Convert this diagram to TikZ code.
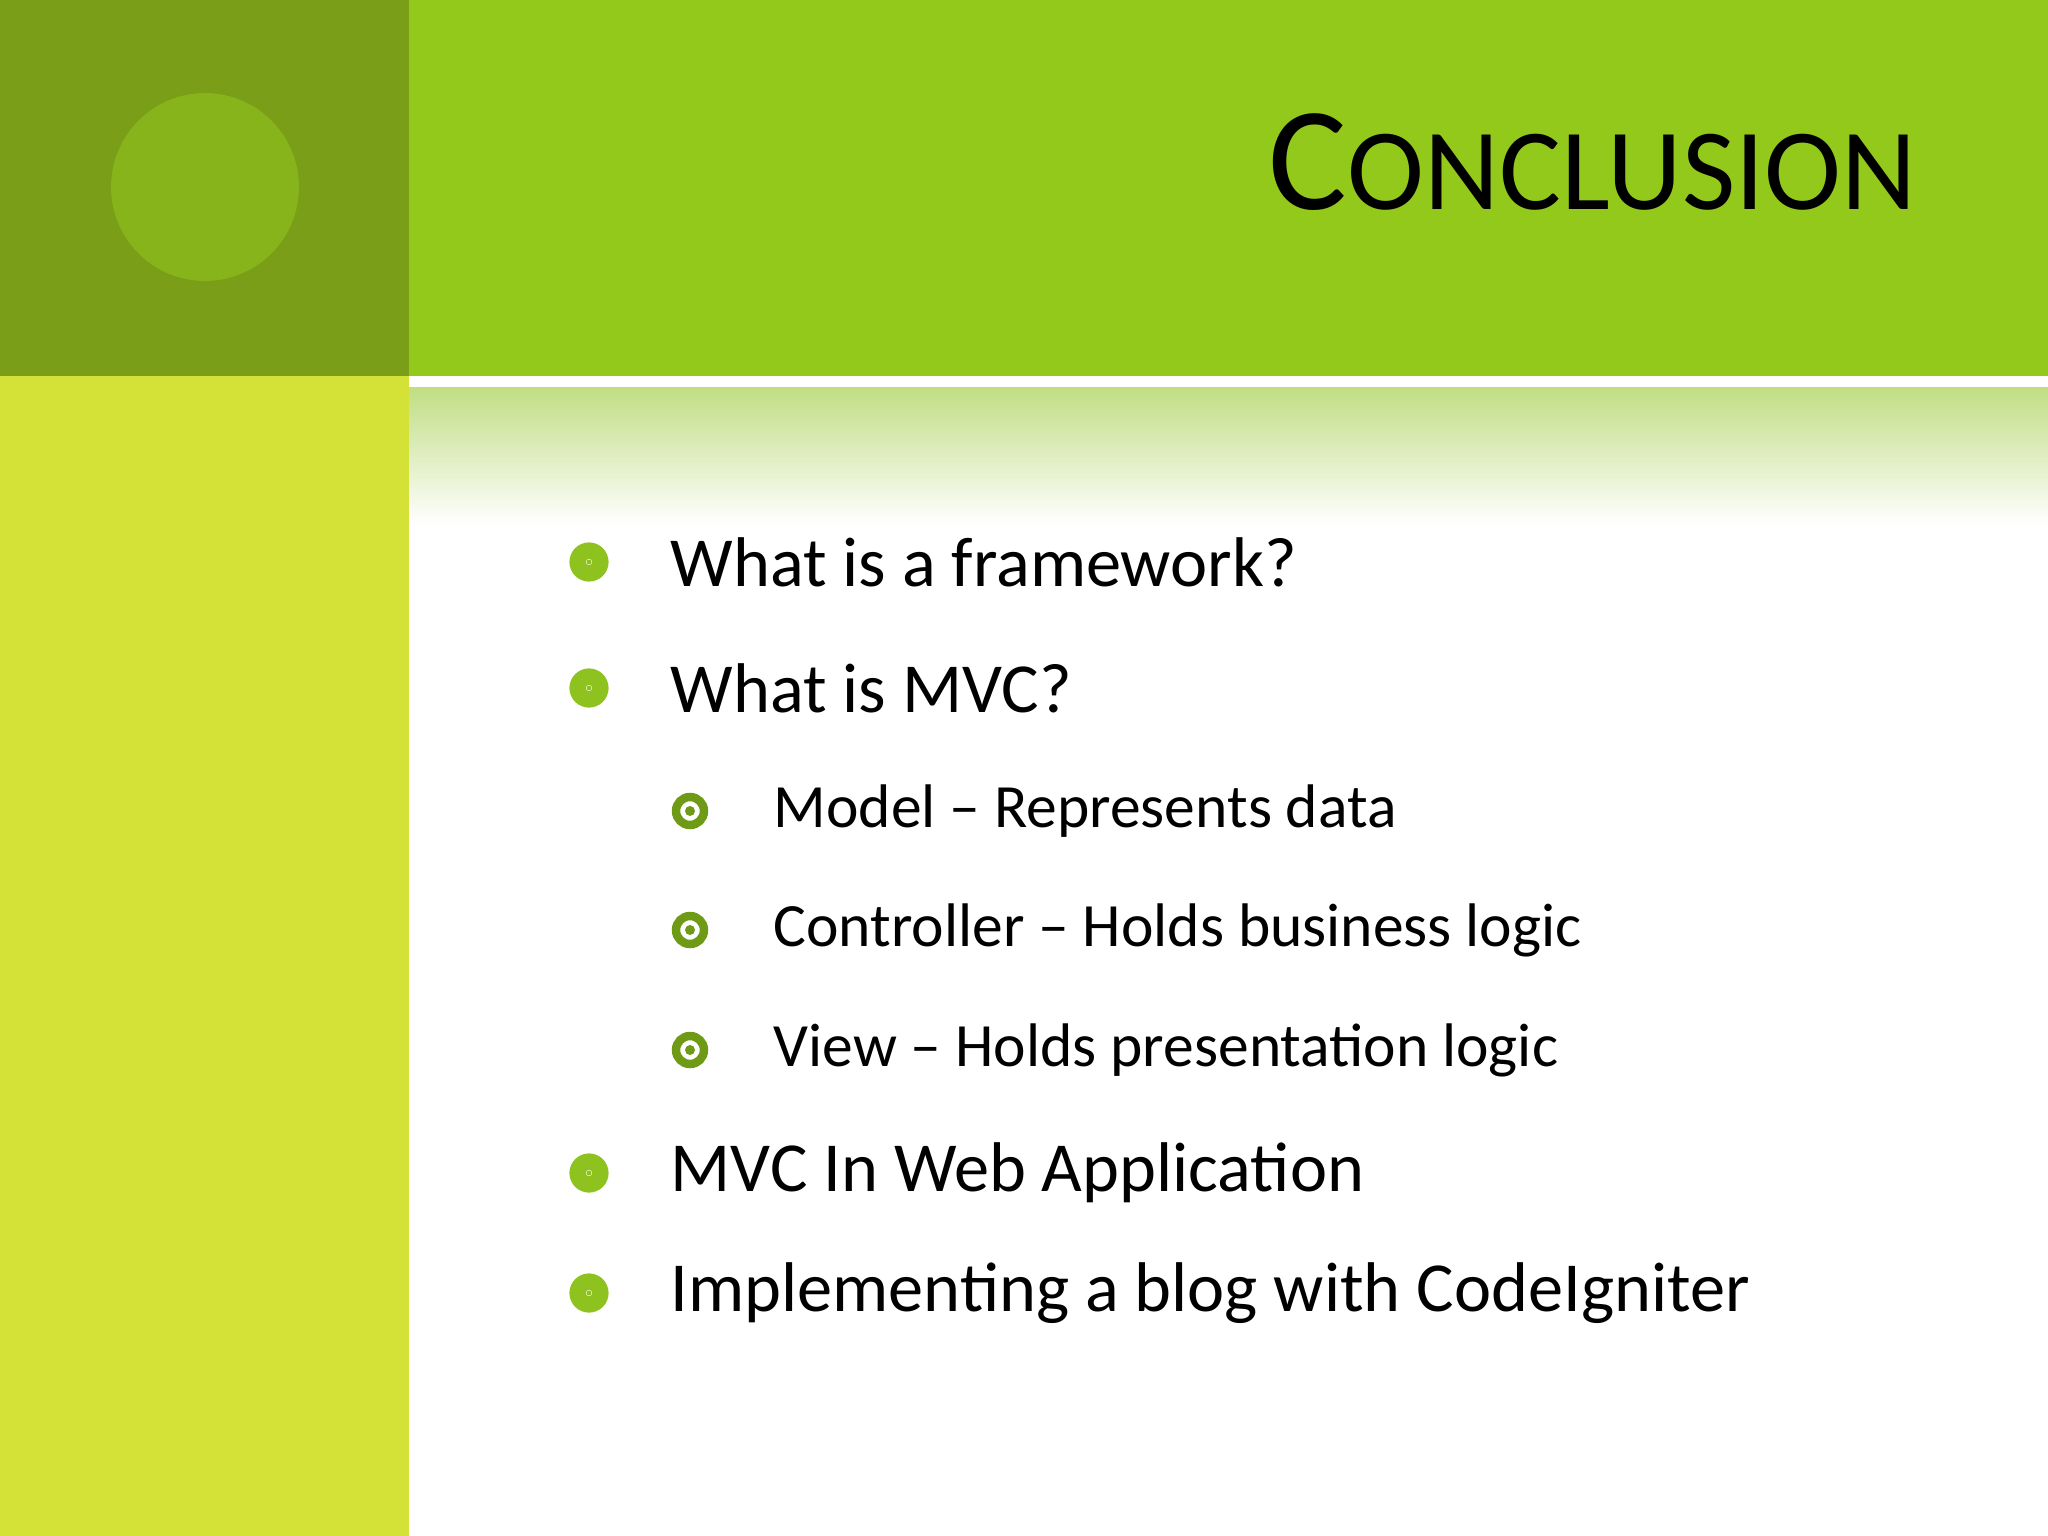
\documentclass[tikz,border=0pt]{standalone}
\usepackage{fontspec}
\setmainfont{Carlito}
\definecolor{topband}{HTML}{93C91A}
\definecolor{topleft}{HTML}{7A9E17}
\definecolor{leftcol}{HTML}{D4E237}
\definecolor{circ}{HTML}{86B41A}
\definecolor{bulA}{HTML}{8DC21F}
\definecolor{bulB}{HTML}{6F9A16}
\begin{document}
\begin{tikzpicture}[x=0.01cm,y=-0.01cm,
  main/.style={anchor=west,font=\fontsize{20pt}{24pt}\selectfont,inner sep=0},
  sub/.style={anchor=west,font=\fontsize{17.5pt}{21pt}\selectfont,inner sep=0}]
\useasboundingbox (0,0) rectangle (2048,1536);
\fill[white] (0,0) rectangle (2048,1536);
\fill[topband] (409,0) rectangle (2048,376);
\fill[topleft] (0,0) rectangle (409,376);
\fill[leftcol] (0,376) rectangle (409,1536);
\fill[circ] (205,187) circle (94);
\shade[top color=bulA!55!white,bottom color=white] (409,387) rectangle (2048,525);
\node[anchor=base east,inner sep=0] (title) at (1917,209)
  {\fontsize{42pt}{48pt}\selectfont C\fontsize{33pt}{40pt}\selectfont ONCLUSION};
\foreach \y/\t [count=\i] in {562/What is a framework?,688/What is MVC?,1173/MVC In Web Application,1293/Implementing a blog with CodeIgniter}{
  \draw[bulA,line width=2.6pt] (589,\y) circle (15);
  \draw[bulA,line width=2.2pt] (589,\y) circle (7);
  \fill[bulA] (589,\y) circle (2.5);
  \node[main] (m\i) at (670,\y) {\t};
}
\foreach \y/\t [count=\i] in {811/Model -- Represents data,930/Controller -- Holds business logic,1050/View -- Holds presentation logic}{
  \draw[bulB,line width=2.4pt] (690,\y) circle (14);
  \fill[bulB] (690,\y) circle (5);
  \node[sub] (s\i) at (773,\y) {\t};
}
\end{tikzpicture}
\end{document}
